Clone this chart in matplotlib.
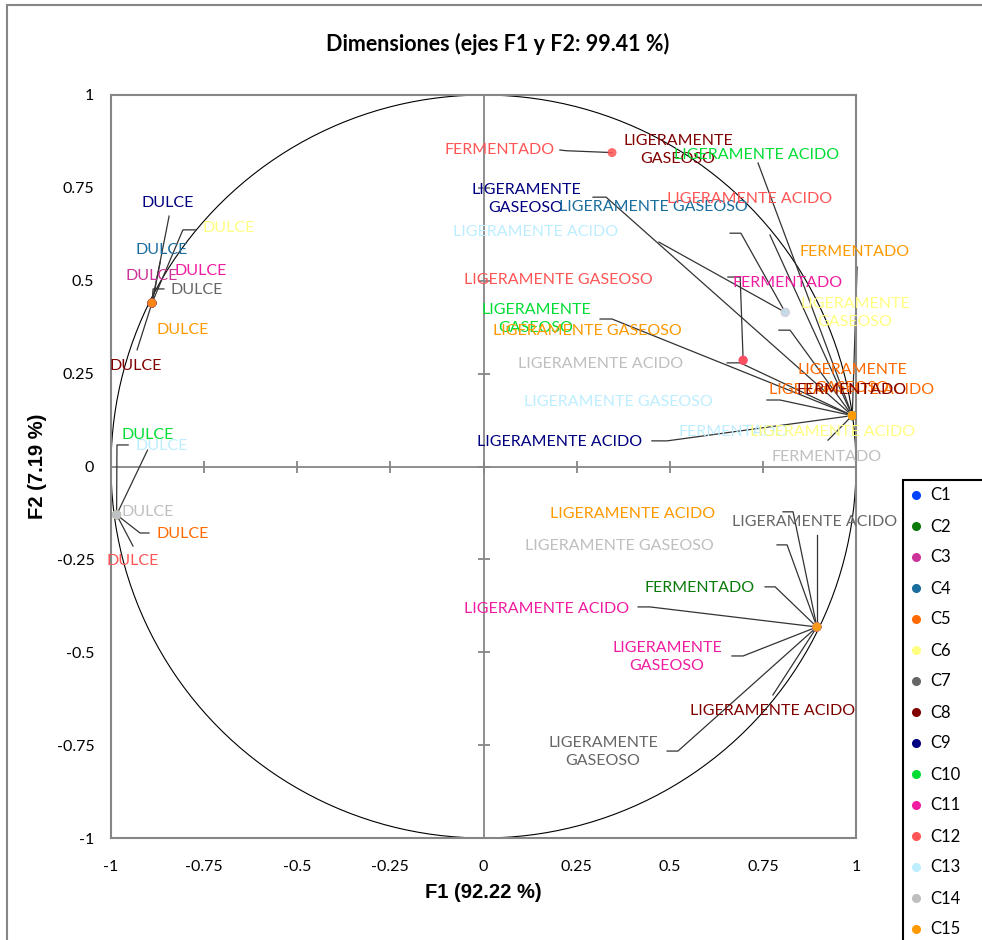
import numpy as np
import matplotlib
matplotlib.use('Agg')
from matplotlib import pyplot as plt
from matplotlib.lines import Line2D
from matplotlib.patches import Rectangle

plt.rcParams['font.family'] = ['Lato', 'DejaVu Sans']

# classes and colours
clases = ['C1', 'C2', 'C3', 'C4', 'C5', 'C6', 'C7', 'C8', 'C9', 'C10', 'C11', 'C12', 'C13', 'C14', 'C15']
colores = ['#0044FF', '#0A7A0A', '#CC3399', '#1A6E9E', '#FF6A00', '#FFFF80', '#666666', '#800000',
           '#000080', '#00DD33', '#F01DA0', '#FF5555', '#BDEEFF', '#BFBFBF', '#FF9900']

# coordinates (F1, F2) of each attribute per class
dulce_x = [-0.89, -0.89, -0.89, -0.89, -0.985, -0.89, -0.89, -0.89, -0.89, -0.985, -0.89, -0.985, -0.985, -0.985, -0.89]
dulce_y = [0.44, 0.44, 0.44, 0.44, -0.13, 0.44, 0.44, 0.44, 0.44, -0.13, 0.44, -0.13, -0.13, -0.13, 0.44]
ferm_x = [0.99, 0.895, 0.99, 0.99, 0.99, 0.99, 0.99, 0.99, 0.99, 0.99, 0.697, 0.345, 0.99, 0.99, 0.99]
ferm_y = [0.137, -0.432, 0.137, 0.137, 0.137, 0.137, 0.137, 0.137, 0.137, 0.137, 0.286, 0.845, 0.137, 0.137, 0.137]
acido_x = [0.99, 0.99, 0.99, 0.99, 0.99, 0.99, 0.895, 0.895, 0.99, 0.99, 0.895, 0.81, 0.81, 0.99, 0.895]
acido_y = [0.137, 0.137, 0.137, 0.137, 0.137, 0.137, -0.432, -0.432, 0.137, 0.137, -0.432, 0.415, 0.415, 0.137, -0.432]
gas_x = [0.99, 0.99, 0.99, 0.99, 0.99, 0.99, 0.895, 0.99, 0.99, 0.99, 0.895, 0.697, 0.99, 0.895, 0.99]
gas_y = [0.137, 0.137, 0.137, 0.137, 0.137, 0.137, -0.432, 0.137, 0.137, 0.137, -0.432, 0.286, 0.137, -0.432, 0.137]

ticks = [-1, -0.75, -0.5, -0.25, 0, 0.25, 0.5, 0.75, 1]
tick_txt = ['-1', '-0.75', '-0.5', '-0.25', '0', '0.25', '0.5', '0.75', '1']

puntos = {'D': (dulce_x, dulce_y), 'F': (ferm_x, ferm_y),
          'A': (acido_x, acido_y), 'G': (gas_x, gas_y)}
nombres = {'D': 'DULCE', 'F': 'FERMENTADO', 'A': 'LIGERAMENTE ACIDO', 'G': 'LIGERAMENTE GASEOSO'}

# label layout: class index, attribute, two lines?, label centre, leader knee points
etiquetas = [
    (11, 'F', False, (0.042, 0.852), [(0.205, 0.852), (0.222, 0.850)]),
    (7, 'G', True, (0.522, 0.852), []),
    (9, 'A', False, (0.734, 0.838), [(0.737, 0.817)]),
    (8, 'G', True, (0.114, 0.720), [(0.294, 0.725), (0.329, 0.725)]),
    (3, 'G', False, (0.455, 0.699), [(0.769, 0.623)]),
    (11, 'A', False, (0.715, 0.720), [(0.662, 0.628), (0.691, 0.628)]),
    (12, 'A', False, (0.141, 0.631), [(0.471, 0.604)]),
    (14, 'F', False, (0.997, 0.577), [(1.003, 0.537)]),
    (11, 'G', False, (0.200, 0.502), []),
    (10, 'F', False, (0.815, 0.494), [(0.656, 0.510), (0.689, 0.510)]),
    (5, 'G', True, (0.997, 0.413), [(0.793, 0.367), (0.823, 0.367)]),
    (9, 'G', True, (0.141, 0.396), []),
    (14, 'G', False, (0.278, 0.365), [(0.313, 0.397), (0.345, 0.397)]),
    (13, 'A', False, (0.313, 0.276), [(0.654, 0.279), (0.689, 0.279)]),
    (4, 'G', True, (0.989, 0.236), []),
    (4, 'A', False, (0.987, 0.206), []),
    (7, 'F', False, (0.989, 0.206), []),
    (12, 'G', False, (0.361, 0.174), [(0.761, 0.179), (0.796, 0.179)]),
    (12, 'F', False, (0.672, 0.093), []),
    (5, 'A', False, (0.936, 0.093), [(0.925, 0.071)]),
    (8, 'A', False, (0.205, 0.066), [(0.452, 0.069), (0.493, 0.069)]),
    (13, 'F', False, (0.922, 0.026), []),
    (8, 'D', False, (-0.847, 0.709), [(-0.844, 0.674)]),
    (5, 'D', False, (-0.683, 0.642), [(-0.774, 0.637), (-0.807, 0.637)]),
    (3, 'D', False, (-0.863, 0.583), [(-0.868, 0.550)]),
    (10, 'D', False, (-0.758, 0.526), []),
    (2, 'D', False, (-0.890, 0.513), []),
    (6, 'D', False, (-0.769, 0.475), [(-0.858, 0.478), (-0.887, 0.478)]),
    (14, 'D', False, (-0.807, 0.367), []),
    (7, 'D', False, (-0.933, 0.271), [(-0.930, 0.314)]),
    (9, 'D', False, (-0.901, 0.085), [(-0.954, 0.058), (-0.984, 0.058)]),
    (12, 'D', False, (-0.863, 0.055), [(-0.902, 0.044)]),
    (13, 'D', False, (-0.901, -0.122), []),
    (4, 'D', False, (-0.807, -0.182), [(-0.898, -0.179), (-0.922, -0.179)]),
    (11, 'D', False, (-0.941, -0.254), [(-0.941, -0.214)]),
    (14, 'A', False, (0.401, -0.128), [(0.804, -0.122), (0.831, -0.122)]),
    (6, 'A', False, (0.890, -0.149), [(0.895, -0.184)]),
    (13, 'G', False, (0.364, -0.214), [(0.788, -0.211), (0.815, -0.211)]),
    (1, 'F', False, (0.581, -0.327), [(0.756, -0.324), (0.783, -0.324)]),
    (10, 'A', False, (0.168, -0.384), [(0.415, -0.378), (0.447, -0.378)]),
    (10, 'G', True, (0.493, -0.513), [(0.667, -0.510), (0.697, -0.510)]),
    (7, 'A', False, (0.775, -0.658), [(0.777, -0.615)]),
    (6, 'G', True, (0.321, -0.768), [(0.493, -0.766), (0.522, -0.766)]),
]

fig = plt.figure(figsize=(9.82, 9.40), dpi=100)
ax = fig.add_axes([111 / 982, 1 - 838 / 940, 745 / 982, 743 / 940])
ax.set_xlim(-1, 1)
ax.set_ylim(-1, 1)

gris = '#868686'
for s in ax.spines.values():
    s.set_color(gris)
    s.set_linewidth(1.5)

ax.axhline(0, color=gris, lw=1.3, zorder=1)
ax.axvline(0, color=gris, lw=1.3, zorder=1)
inner = [t for t in ticks if abs(t) < 1]
ax.plot(inner, [0] * len(inner), ls='none', marker='|', ms=9, mew=1.3, color=gris, zorder=1)
ax.plot([0] * len(inner), inner, ls='none', marker='_', ms=9, mew=1.3, color=gris, zorder=1)

ang = np.linspace(0, 2 * np.pi, 400)
ax.plot(np.cos(ang), np.sin(ang), color='black', lw=0.8, zorder=1)

# leader lines
for ci, att, dos, pos, knee in etiquetas:
    if not knee:
        continue
    px, py = puntos[att]
    xs = [k[0] for k in knee] + [px[ci]]
    ys = [k[1] for k in knee] + [py[ci]]
    ax.plot(xs, ys, color='#333333', lw=0.9, zorder=2, clip_on=False)

for i, c in enumerate(clases):
    xs = [dulce_x[i], ferm_x[i], acido_x[i], gas_x[i]]
    ys = [dulce_y[i], ferm_y[i], acido_y[i], gas_y[i]]
    ax.scatter(xs, ys, s=42, color=colores[i], alpha=0.85, edgecolors='none', zorder=3)

for ci, att, dos, pos, knee in etiquetas:
    txt = nombres[att]
    if dos:
        txt = txt.replace(' ', '\n')
    ax.text(pos[0], pos[1], txt, color=colores[ci], fontsize=11.5, ha='center', va='center',
            linespacing=1.35, zorder=4, clip_on=False)

ax.set_xticks(ticks)
ax.set_xticklabels(tick_txt)
ax.set_yticks(ticks)
ax.set_yticklabels(tick_txt)
ax.tick_params(length=0, labelsize=11.5)
ax.tick_params(axis='x', pad=16)
ax.tick_params(axis='y', pad=12)

ax.set_xlabel('F1 (92.22 %)', family='Liberation Sans', fontweight='bold', fontsize=14.5, va='center')
ax.xaxis.set_label_coords(0.5, -0.074)
ax.set_ylabel('F2 (7.19 %)', family='Liberation Sans', fontweight='bold', fontsize=14.5, va='center')
ax.yaxis.set_label_coords(-0.099, 0.5)

fig.text(498 / 982, 1 - 44 / 940, 'Dimensiones (ejes F1 y F2: 99.41 %)', ha='center', va='center',
         fontsize=15.5, fontweight='bold')

# outer chart frame
fig.patches.append(Rectangle((7 / 982, -0.05), 1.2, 1.05 - 5 / 940, transform=fig.transFigure,
                             fill=False, edgecolor=gris, lw=1.5))

handles = [Line2D([], [], ls='none', marker='o', ms=5.5, color=c) for c in colores]
leg = fig.legend(handles, clases, loc='upper left', bbox_to_anchor=(903 / 982, 1 - 480 / 940, 130 / 982, 0),
                 mode='expand', fontsize=12, frameon=True, fancybox=False, framealpha=1,
                 edgecolor='black', labelspacing=0.9, handlelength=0.6, handletextpad=0.6,
                 borderpad=0.45, borderaxespad=0)
leg.get_frame().set_linewidth(1.5)

plt.savefig('out.png', dpi=100)
